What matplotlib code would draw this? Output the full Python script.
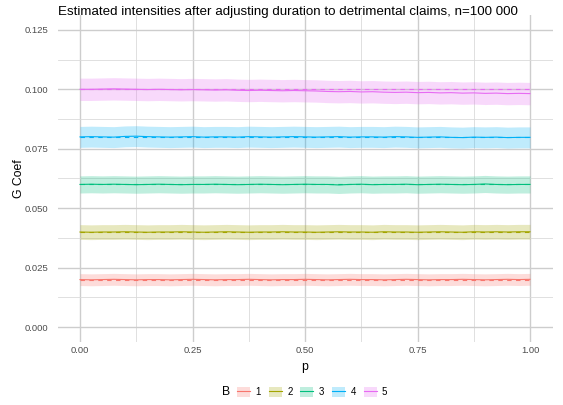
import numpy as np
import matplotlib.pyplot as plt
from matplotlib.patches import Patch
from matplotlib.lines import Line2D

plt.rcParams['font.family'] = ['Liberation Sans', 'DejaVu Sans']

# grid of p values and true intensities per group B
p = np.linspace(0, 1, 41)
groups = ["1", "2", "3", "4", "5"]
true_coef = [0.02, 0.04, 0.06, 0.08, 0.10]
colors = ["#F8766D", "#A3A500", "#00BF7D", "#00B0F6", "#E76BF3"]

# estimated coefficients (mean over simulations)
est_b1 = [0.0200, 0.0199, 0.0200, 0.0201, 0.0200, 0.0199, 0.0200, 0.0200, 0.0199, 0.0200,
          0.0201, 0.0200, 0.0199, 0.0200, 0.0200, 0.0201, 0.0200, 0.0199, 0.0200, 0.0200,
          0.0201, 0.0200, 0.0199, 0.0200, 0.0201, 0.0200, 0.0200, 0.0199, 0.0200, 0.0201,
          0.0200, 0.0199, 0.0200, 0.0200, 0.0201, 0.0200, 0.0199, 0.0200, 0.0201, 0.0200,
          0.0201]
est_b2 = [0.0400, 0.0399, 0.0400, 0.0400, 0.0401, 0.0400, 0.0399, 0.0400, 0.0400, 0.0401,
          0.0400, 0.0399, 0.0400, 0.0401, 0.0400, 0.0399, 0.0400, 0.0400, 0.0401, 0.0400,
          0.0400, 0.0399, 0.0400, 0.0401, 0.0400, 0.0400, 0.0399, 0.0401, 0.0400, 0.0400,
          0.0399, 0.0400, 0.0401, 0.0400, 0.0399, 0.0401, 0.0400, 0.0401, 0.0400, 0.0401,
          0.0401]
est_b3 = [0.0600, 0.0601, 0.0600, 0.0601, 0.0600, 0.0599, 0.0600, 0.0601, 0.0600, 0.0599,
          0.0600, 0.0600, 0.0601, 0.0600, 0.0599, 0.0600, 0.0601, 0.0600, 0.0599, 0.0600,
          0.0601, 0.0600, 0.0600, 0.0598, 0.0600, 0.0601, 0.0599, 0.0600, 0.0600, 0.0601,
          0.0599, 0.0600, 0.0601, 0.0600, 0.0599, 0.0600, 0.0602, 0.0600, 0.0599, 0.0600,
          0.0600]
est_b4 = [0.0800, 0.0801, 0.0800, 0.0799, 0.0802, 0.0803, 0.0801, 0.0800, 0.0799, 0.0800,
          0.0801, 0.0799, 0.0800, 0.0800, 0.0799, 0.0801, 0.0800, 0.0799, 0.0800, 0.0801,
          0.0800, 0.0799, 0.0800, 0.0801, 0.0799, 0.0800, 0.0800, 0.0799, 0.0801, 0.0800,
          0.0798, 0.0799, 0.0800, 0.0798, 0.0797, 0.0799, 0.0798, 0.0799, 0.0797, 0.0798,
          0.0798]
est_b5 = [0.1000, 0.1000, 0.1001, 0.1002, 0.1001, 0.1000, 0.0999, 0.1000, 0.0999, 0.0998,
          0.0999, 0.0998, 0.0997, 0.0998, 0.0996, 0.0995, 0.0996, 0.0995, 0.0994, 0.0995,
          0.0994, 0.0993, 0.0991, 0.0990, 0.0991, 0.0989, 0.0990, 0.0988, 0.0987, 0.0988,
          0.0986, 0.0987, 0.0985, 0.0986, 0.0984, 0.0985, 0.0983, 0.0984, 0.0982, 0.0983,
          0.0982]
estimates = [est_b1, est_b2, est_b3, est_b4, est_b5]

# half width of the simulation band per group
band = [0.0025, 0.0031, 0.0036, 0.0044, 0.0047]

W, H = 563, 405
fig = plt.figure(figsize=(W / 100, H / 100), dpi=100)
ax = fig.add_axes([57.5 / W, 1 - 342 / H, 495 / W, 327 / H])

# theme_minimal-like grid
for v in np.arange(0, 1.01, 0.25):
    ax.axvline(v, color="#cdcdcd", lw=1.0, zorder=0)
for v in np.arange(0.125, 1, 0.25):
    ax.axvline(v, color="#dadada", lw=0.6, zorder=0)
for v in np.arange(0, 0.126, 0.025):
    ax.axhline(v, color="#cdcdcd", lw=1.0, zorder=0)
for v in np.arange(0.0125, 0.125, 0.025):
    ax.axhline(v, color="#dadada", lw=0.6, zorder=0)

for est, w, c in zip(estimates, band, colors):
    est = np.array(est)
    ax.fill_between(p, est - w, est + w, color=c, alpha=0.25, lw=0, zorder=1)

for est, tc, c in zip(estimates, true_coef, colors):
    ax.plot([0, 1], [tc, tc], color=c, lw=0.8, dashes=(4, 4), zorder=2)
    ax.plot(p, est, color=c, lw=0.8, zorder=3)

ax.set_xlim(-0.05, 1.05)
ax.set_ylim(-0.00625, 0.13125)
ax.set_xticks([0, 0.25, 0.5, 0.75, 1.0])
ax.set_xticklabels(["0.00", "0.25", "0.50", "0.75", "1.00"])
ax.set_yticks([0, 0.025, 0.05, 0.075, 0.1, 0.125])
ax.set_yticklabels(["0.000", "0.025", "0.050", "0.075", "0.100", "0.125"])
ax.tick_params(length=0, labelsize=6.8, labelcolor="#4d4d4d")
ax.tick_params(axis="x", pad=3)
ax.tick_params(axis="y", pad=6.5)
for s in ax.spines.values():
    s.set_visible(False)

fig.text(305 / W, 1 - 367 / H, "p", fontsize=8.8, ha="center", va="center")
fig.text(19 / W, 1 - 178.5 / H, "G Coef", fontsize=8.8, ha="center", va="center",
         rotation=90)
fig.text(57.5 / W, 1 - 12 / H,
         "Estimated intensities after adjusting duration to detrimental claims, n=100 000",
         fontsize=9.65, ha="left", va="center")

# legend at the bottom with the title to the left
handles = [(Patch(facecolor=c, alpha=0.25, edgecolor="none"), Line2D([], [], color=c, lw=0.8))
           for c in colors]
fig.text(226 / W, 1 - 392 / H, "B", fontsize=8.8, ha="center", va="center")
fig.legend(handles, groups, loc="center left", bbox_to_anchor=(237 / W, 1 - 392 / H),
           ncol=5, frameon=False, fontsize=7, handlelength=1.35, handleheight=1.35,
           handletextpad=0.55, columnspacing=0.8, borderaxespad=0, borderpad=0)

fig.savefig("out.png", dpi=100)
